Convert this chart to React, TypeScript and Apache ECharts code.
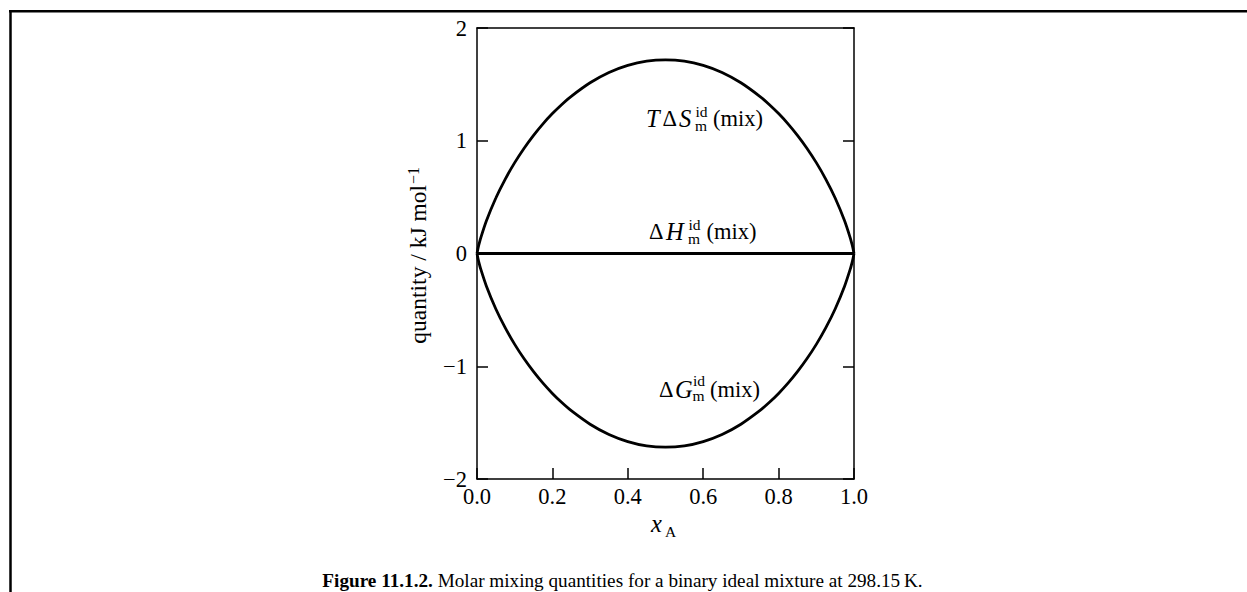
import React, { useEffect, useRef } from "react";
import * as echarts from "echarts";

const serif = "'Liberation Serif', 'DejaVu Serif', 'Times New Roman', serif";

// mole fraction of A
const xValues = [
  0, 0.0025, 0.005, 0.01, 0.025, 0.05, 0.075, 0.1, 0.125, 0.15, 0.175, 0.2, 0.225, 0.25, 0.3, 0.35, 0.4, 0.45, 0.5,
  0.55, 0.6, 0.65, 0.7, 0.75, 0.775, 0.8, 0.825, 0.85, 0.875, 0.9, 0.925, 0.95, 0.975, 0.99, 0.995, 0.9975, 1,
];
// T ΔS_m^id(mix) / kJ mol^-1
const tdsValues = [
  0, 0.043, 0.078, 0.139, 0.29, 0.492, 0.66, 0.806, 0.934, 1.048, 1.15, 1.241, 1.322, 1.394, 1.514, 1.605, 1.668, 1.706, 1.718,
  1.706, 1.668, 1.605, 1.514, 1.394, 1.322, 1.241, 1.15, 1.048, 0.934, 0.806, 0.66, 0.492, 0.29, 0.139, 0.078, 0.043, 0,
];
// ΔG_m^id(mix) / kJ mol^-1
const dgValues = [
  0, -0.043, -0.078, -0.139, -0.29, -0.492, -0.66, -0.806, -0.934, -1.048, -1.15, -1.241, -1.322, -1.394, -1.514, -1.605, -1.668, -1.706, -1.718,
  -1.706, -1.668, -1.605, -1.514, -1.394, -1.322, -1.241, -1.15, -1.048, -0.934, -0.806, -0.66, -0.492, -0.29, -0.139, -0.078, -0.043, 0,
];
// ΔH_m^id(mix) / kJ mol^-1
const dhX = [0, 1];
const dhValues = [0, 0];

const xTicks = [0, 0.2, 0.4, 0.6, 0.8, 1.0];
const yTicks = [-2, -1, 0, 1, 2];

const caption = "Molar mixing quantities for a binary ideal mixture at 298.15\u2009K.";
const captionLead = "Figure 11.1.2.";

function piece(text: string, x: number, y: number, size: number, italic = false, align = "left") {
  return {
    type: "text",
    x,
    y,
    silent: true,
    style: {
      text,
      fontSize: size,
      fontFamily: serif,
      fontStyle: italic ? "italic" : "normal",
      fill: "#000",
      align,
      verticalAlign: "middle",
    },
  };
}

export default function App() {
  const ref = useRef<HTMLDivElement>(null);

  useEffect(() => {
    if (!ref.current) return;
    const chart = echarts.init(ref.current, undefined, { renderer: "svg" });
    const axisLineStyle = { color: "#000", width: 1.5 };
    const pairs = (xs: number[], ys: number[]) => xs.map((x, i) => [x, ys[i]]);

    const option: any = {
      animation: false,
      backgroundColor: "#fff",
      grid: { left: 477, top: 28, width: 377, height: 451, containLabel: false },
      xAxis: [
        {
          type: "value",
          min: xTicks[0],
          max: xTicks[xTicks.length - 1],
          interval: 0.2,
          position: "bottom",
          axisLine: { show: true, onZero: false, lineStyle: axisLineStyle },
          axisTick: { show: true, inside: true, length: 11, lineStyle: axisLineStyle },
          axisLabel: {
            show: true,
            color: "#000",
            fontSize: 22.5,
            fontFamily: serif,
            margin: 6,
            formatter: (v: number) => v.toFixed(1),
          },
          splitLine: { show: false },
        },
        {
          type: "value",
          min: 0,
          max: 1,
          position: "top",
          axisLine: { show: true, onZero: false, lineStyle: axisLineStyle },
          axisTick: { show: false },
          axisLabel: { show: false },
          splitLine: { show: false },
        },
      ],
      yAxis: [
        {
          type: "value",
          min: yTicks[0],
          max: yTicks[yTicks.length - 1],
          interval: 1,
          position: "left",
          axisLine: { show: true, onZero: false, lineStyle: axisLineStyle },
          axisTick: { show: true, inside: true, length: 11, lineStyle: axisLineStyle },
          axisLabel: {
            show: true,
            color: "#000",
            fontSize: 22.5,
            fontFamily: serif,
            margin: 10,
            formatter: (v: number) => String(v).replace("-", "\u2212"),
          },
          splitLine: { show: false },
        },
        {
          type: "value",
          min: -2,
          max: 2,
          interval: 1,
          position: "right",
          axisLine: { show: true, onZero: false, lineStyle: axisLineStyle },
          axisTick: { show: true, inside: true, length: 11, lineStyle: axisLineStyle },
          axisLabel: { show: false },
          splitLine: { show: false },
        },
      ],
      series: [
        {
          type: "line",
          name: "TdS",
          data: pairs(xValues, tdsValues),
          showSymbol: false,
          smooth: 0.2,
          lineStyle: { color: "#000", width: 2.8 },
          z: 5,
        },
        {
          type: "line",
          name: "dG",
          data: pairs(xValues, dgValues),
          showSymbol: false,
          smooth: 0.2,
          lineStyle: { color: "#000", width: 2.8 },
          z: 5,
        },
        {
          type: "line",
          name: "dH",
          data: pairs(dhX, dhValues),
          showSymbol: false,
          lineStyle: { color: "#000", width: 2.8 },
          z: 5,
        },
      ],
      graphic: [
        // outer frame
        { type: "line", silent: true, shape: { x1: 9, y1: 11.25, x2: 1247, y2: 11.25 }, style: { stroke: "#000", lineWidth: 2.5 } },
        { type: "line", silent: true, shape: { x1: 10.5, y1: 10, x2: 10.5, y2: 592 }, style: { stroke: "#000", lineWidth: 2.5 } },
        // T ΔS label
        piece("T", 646, 118.5, 24.5, true),
        piece("\u0394", 662.5, 118.5, 22.5),
        piece("S", 679, 118.5, 24.5, true),
        piece("id", 695.5, 111.5, 15.5),
        piece("m", 695, 125.5, 15.5),
        piece("(mix)", 713, 118.5, 22.5),
        // ΔH label
        piece("\u0394", 649, 231.5, 22.5),
        piece("H", 666, 231.5, 24.5, true),
        piece("id", 688.5, 224.5, 15.5),
        piece("m", 688, 238.5, 15.5),
        piece("(mix)", 706.5, 231.5, 22.5),
        // ΔG label
        piece("\u0394", 659, 389.5, 22.5),
        piece("G", 675, 389.5, 24.5, true),
        piece("id", 693, 380, 15.5),
        piece("m", 692.5, 395, 15.5),
        piece("(mix)", 710, 389.5, 22.5),
        // x axis name
        piece("x", 651, 523, 24.5, true),
        piece("A", 665, 531.5, 15.5),
        // y axis name
        {
          type: "group",
          x: 417.8,
          y: 185,
          rotation: Math.PI / 2,
          silent: true,
          children: [
            piece("quantity / kJ mol", 0, 0, 23.5, false, "right"),
            piece("\u22121", 1, -4, 16, false, "left"),
          ],
        },
        // caption
        {
          type: "text",
          x: 622.5,
          y: 580.5,
          silent: true,
          style: {
            text: "{b|" + captionLead + "} " + caption,
            fontSize: 19.2,
            fontFamily: serif,
            fill: "#000",
            align: "center",
            verticalAlign: "middle",
            rich: {
              b: { fontSize: 19.2, fontFamily: serif, fontWeight: "bold", fill: "#000" },
            },
          },
        },
      ],
    };

    chart.setOption(option);
    return () => {
      chart.dispose();
    };
  }, []);

  return (
    <div
      ref={ref}
      style={{ position: "absolute", left: 0, top: 0, width: 1247, height: 592, background: "#fff" }}
    />
  );
}
